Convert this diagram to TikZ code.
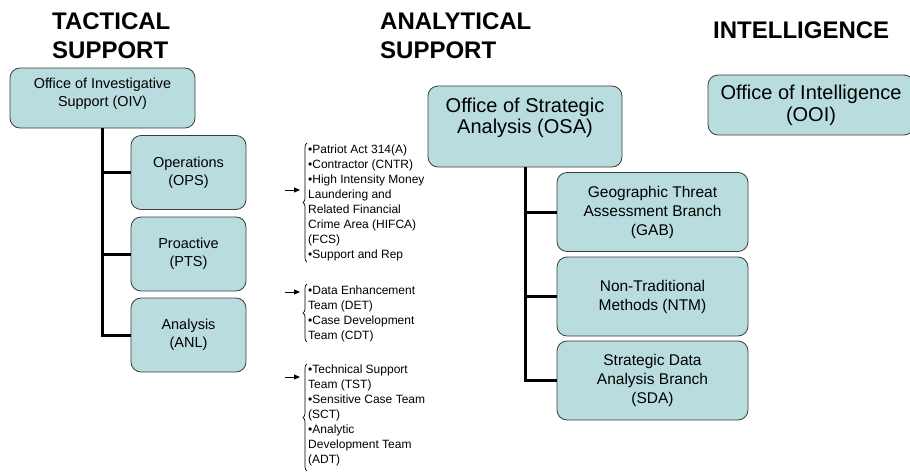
\documentclass[tikz,border=0pt]{standalone}
\usepackage{fontspec}
\setmainfont{Liberation Sans}
\usetikzlibrary{decorations.pathreplacing,arrows.meta}
\definecolor{boxfill}{RGB}{185,221,223}
\definecolor{boxline}{RGB}{60,60,60}
\begin{document}
\begin{tikzpicture}[x=1pt,y=-1pt,
  orgbox/.style={draw=boxline, line width=0.8pt, fill=boxfill, rounded corners=10pt, align=center, inner sep=0pt},
  smallbox/.style={orgbox, minimum width=115pt, minimum height=74pt, font=\fontsize{14.5}{18}\selectfont},
  branchbox/.style={orgbox, minimum width=191pt, minimum height=79pt, font=\fontsize{15.5}{19}\selectfont},
  conn/.style={line width=3pt},
  title/.style={font=\bfseries\fontsize{24}{29}\selectfont, align=left, anchor=north west, inner sep=0pt},
  blist/.style={font=\fontsize{12}{15}\selectfont, align=left, anchor=north west, inner sep=0pt},
  bracket/.style={decorate, decoration={brace, amplitude=4pt}, line width=0.7pt},
  pointer/.style={-{Triangle[length=6pt,width=5pt]}, line width=0.9pt}]
\useasboundingbox (0,0) rectangle (910,474);

% titles
\node[title] (t1) at (52,13) {TACTICAL\\SUPPORT};
\node[title] (t2) at (380,13) {ANALYTICAL\\SUPPORT};
\node[title] (t3) at (713,22) {INTELLIGENCE};

% tactical column
\node[orgbox, font=\fontsize{14.4}{18}\selectfont] (oiv) at (102.5,98)
  {\parbox[c][60pt][t]{185pt}{\centering\vspace*{9.7pt}Office of Investigative\\Support (OIV)}};
\node[smallbox] (ops) at (188.5,172.5) {Operations\\(OPS)};
\node[smallbox] (pts) at (188.5,254) {Proactive\\(PTS)};
\node[smallbox] (anl) at (188.5,335) {Analysis\\(ANL)};
\draw[conn] (oiv.south) |- (ops.west);
\draw[conn] (oiv.south) |- (pts.west);
\draw[conn] (oiv.south) |- (anl.west);

% analytical column
\node[orgbox, font=\fontsize{20}{21}\selectfont] (osa) at (525,126.5)
  {\parbox[c][81pt][t]{194pt}{\centering\vspace*{11.6pt}Office of Strategic\\Analysis (OSA)}};
\node[branchbox] (gab) at (652.5,212) {Geographic Threat\\Assessment Branch\\(GAB)};
\node[branchbox] (ntm) at (652.5,296.5) {Non-Traditional\\Methods (NTM)};
\node[branchbox] (sda) at (652.5,380.5) {Strategic Data\\Analysis Branch\\(SDA)};
\draw[conn] (osa.south) |- (gab.west);
\draw[conn] (osa.south) |- (ntm.west);
\draw[conn] (osa.south) |- (sda.west);

% intelligence
\node[orgbox, minimum width=206pt, minimum height=60pt, font=\fontsize{20}{22}\selectfont] (ooi) at (811,105)
  {Office of Intelligence\\(OOI)};

% bullet lists
\node[blist] (l1) at (308,144.7) {•Patriot Act 314(A)\\•Contractor (CNTR)\\•High Intensity Money\\Laundering and\\Related Financial\\Crime Area (HIFCA)\\(FCS)\\•Support and Rep};
\node[blist] (l2) at (308,285.7) {•Data Enhancement\\Team (DET)\\•Case Development\\Team (CDT)};
\node[blist] (l3) at (308,364.2) {•Technical Support\\Team (TST)\\•Sensitive Case Team\\(SCT)\\•Analytic\\Development Team\\(ADT)};

% braces
\coordinate (b1t) at (307,143); \coordinate (b1b) at (307,262);
\coordinate (b2t) at (307,284); \coordinate (b2b) at (307,342);
\coordinate (b3t) at (307,364); \coordinate (b3b) at (307,471);
\draw[bracket] (b1b) -- (b1t);
\draw[bracket] (b2b) -- (b2t);
\draw[bracket] (b3b) -- (b3t);

% arrows
\coordinate (a1s) at (285,190); \coordinate (a1e) at (300,190);
\coordinate (a2s) at (285,292); \coordinate (a2e) at (300,292);
\coordinate (a3s) at (285,377); \coordinate (a3e) at (300,377);
\draw[pointer] (a1s) -- (a1e);
\draw[pointer] (a2s) -- (a2e);
\draw[pointer] (a3s) -- (a3e);
\end{tikzpicture}
\end{document}
